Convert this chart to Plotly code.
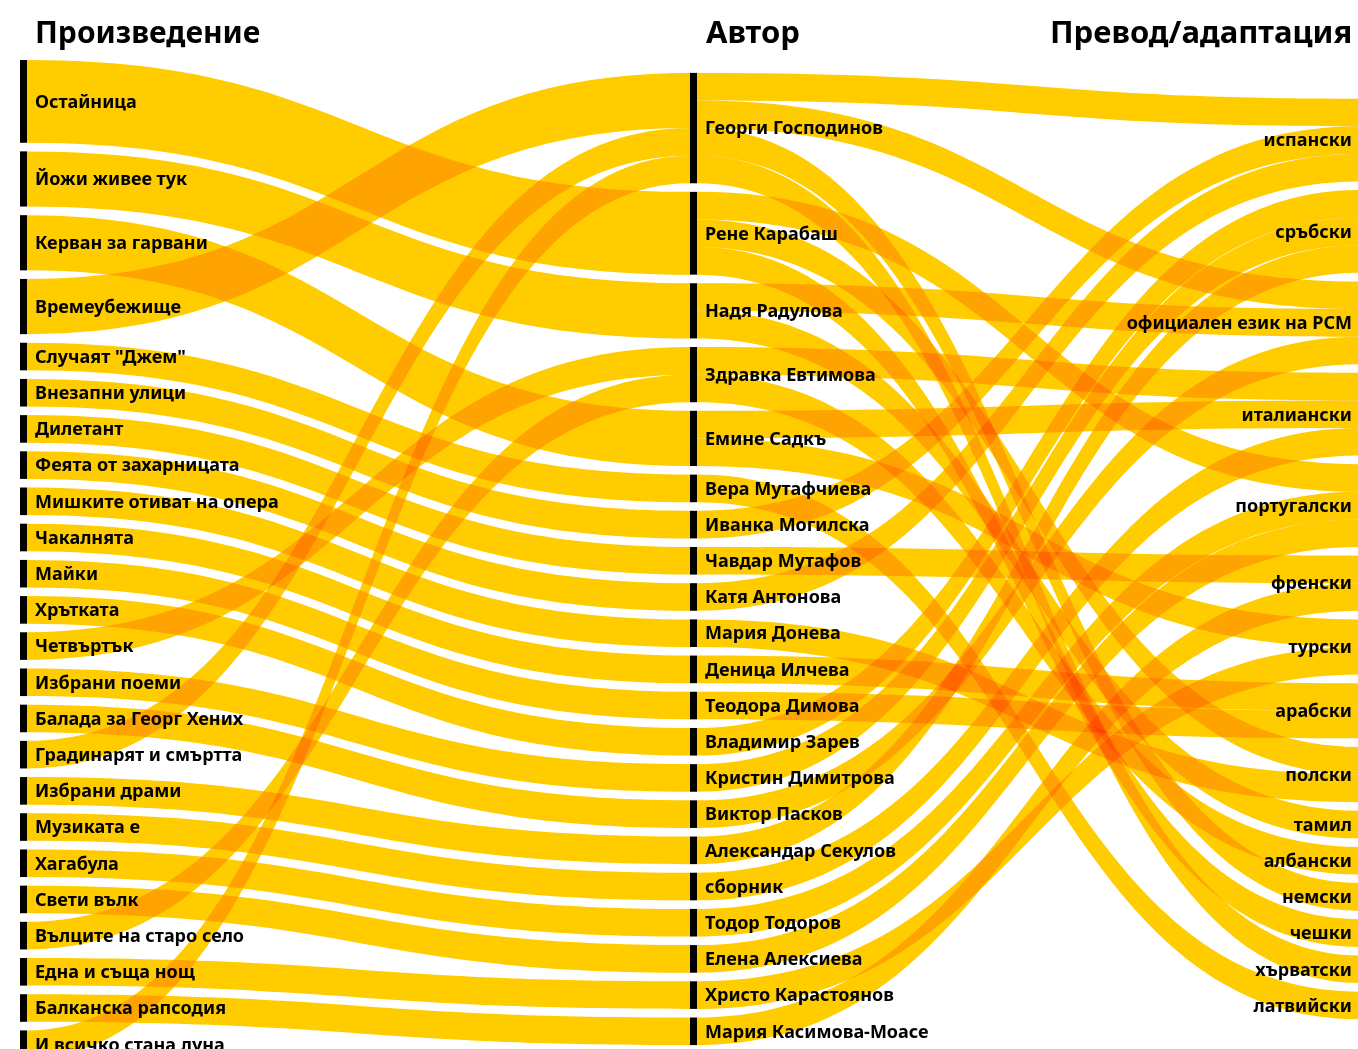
import plotly.graph_objects as go

# ---------------- data ----------------
works = ["Остайница", "Йожи живее тук", "Керван за гарвани", "Времеубежище",
         'Случаят "Джем"', "Внезапни улици", "Дилетант", "Феята от захарницата",
         "Мишките отиват на опера", "Чакалнята", "Майки", "Хрътката", "Четвъртък",
         "Избрани поеми", "Балада за Георг Хених", "Градинарят и смъртта",
         "Избрани драми", "Музиката е", "Хагабула", "Свети вълк",
         "Вълците на старо село", "Една и съща нощ", "Балканска рапсодия",
         "И всичко стана луна"]

authors = ["Георги Господинов", "Рене Карабаш", "Надя Радулова", "Здравка Евтимова",
           "Емине Садкъ", "Вера Мутафчиева", "Иванка Могилска", "Чавдар Мутафов",
           "Катя Антонова", "Мария Донева", "Деница Илчева", "Теодора Димова",
           "Владимир Зарев", "Кристин Димитрова", "Виктор Пасков",
           "Александар Секулов", "сборник", "Тодор Тодоров", "Елена Алексиева",
           "Христо Карастоянов", "Мария Касимова-Моасе"]

languages = ["испански", "сръбски", "официален език на РСМ", "италиански",
             "португалски", "френски", "турски", "арабски", "полски", "тамил",
             "албански", "немски", "чешки", "хърватски", "латвийски"]

wa_work = ["Остайница", "Йожи живее тук", "Керван за гарвани", "Времеубежище",
           'Случаят "Джем"', "Внезапни улици", "Дилетант", "Феята от захарницата",
           "Мишките отиват на опера", "Чакалнята", "Майки", "Хрътката", "Четвъртък",
           "Избрани поеми", "Балада за Георг Хених", "Градинарят и смъртта",
           "Избрани драми", "Музиката е", "Хагабула", "Свети вълк",
           "Вълците на старо село", "Една и съща нощ", "Балканска рапсодия",
           "И всичко стана луна"]
wa_author = ["Рене Карабаш", "Надя Радулова", "Емине Садкъ", "Георги Господинов",
             "Вера Мутафчиева", "Иванка Могилска", "Чавдар Мутафов", "Катя Антонова",
             "Мария Донева", "Деница Илчева", "Теодора Димова", "Владимир Зарев",
             "Здравка Евтимова", "Кристин Димитрова", "Виктор Пасков",
             "Георги Господинов", "Александар Секулов", "сборник", "Тодор Тодоров",
             "Елена Алексиева", "Здравка Евтимова", "Христо Карастоянов",
             "Мария Касимова-Моасе", "Георги Господинов"]
wa_count = [3, 2, 2, 2, 1, 1, 1, 1, 1, 1, 1, 1, 1, 1, 1, 1, 1, 1, 1, 1, 1, 1, 1, 1]

al_author = ["Георги Господинов", "Георги Господинов", "Георги Господинов", "Георги Господинов",
             "Рене Карабаш", "Рене Карабаш", "Рене Карабаш",
             "Надя Радулова", "Надя Радулова",
             "Здравка Евтимова", "Здравка Евтимова",
             "Емине Садкъ", "Емине Садкъ",
             "Вера Мутафчиева", "Иванка Могилска", "Чавдар Мутафов", "Катя Антонова",
             "Мария Донева", "Деница Илчева", "Теодора Димова", "Владимир Зарев",
             "Кристин Димитрова", "Виктор Пасков", "Александар Секулов", "сборник",
             "Тодор Тодоров", "Елена Алексиева", "Христо Карастоянов",
             "Мария Касимова-Моасе"]
al_language = ["испански", "официален език на РСМ", "немски", "хърватски",
               "португалски", "полски", "чешки",
               "официален език на РСМ", "тамил",
               "италиански", "албански",
               "италиански", "турски",
               "латвийски", "испански", "френски", "испански",
               "полски", "арабски", "арабски", "сръбски",
               "сръбски", "официален език на РСМ", "сръбски", "италиански",
               "португалски", "португалски", "турски",
               "френски"]
al_count = [1] * len(al_author)

headers = ["Произведение", "Автор", "Превод/адаптация"]

# ---------------- layout constants ----------------
FIG_W, FIG_H = 1375, 1070
M_L, M_R, M_T, M_B = 20, 8, 60, 12
W = FIG_W - M_L - M_R
H = FIG_H - M_T - M_B
THICK = 7
PAD = 8.6
YELLOW = "#FFCC00"

nodes = works + authors + languages
idx = {n: i for i, n in enumerate(nodes)}
src = [idx[s] for s in wa_work] + [idx[s] for s in al_author]
tgt = [idx[t] for t in wa_author] + [idx[t] for t in al_language]
vals = wa_count + al_count

inflow = [0] * len(nodes)
outflow = [0] * len(nodes)
for s, t, v in zip(src, tgt, vals):
    outflow[s] += v
    inflow[t] += v
nval = [max(a, b) for a, b in zip(inflow, outflow)]

columns = [works, authors, languages]
ky = min((H - (len(c) - 1) * PAD) / sum(nval[idx[n]] for n in c) for c in columns)
node_x = [0.0] * len(nodes)
node_y = [0.0] * len(nodes)
for ci, col in enumerate(columns):
    total = sum(nval[idx[n]] * ky for n in col) + (len(col) - 1) * PAD
    y = (H - total) / 2
    xc = (THICK / 2 + ci * (W - THICK) / (len(columns) - 1)) / W
    for n in col:
        h = nval[idx[n]] * ky
        node_x[idx[n]] = xc
        node_y[idx[n]] = (y + h / 2) / H
        y += h + PAD

node_colors = ["black"] * (len(works) + len(authors)) + [YELLOW] * len(languages)

fig = go.Figure(go.Sankey(
    arrangement="fixed",
    hoverinfo="none",
    node=dict(label=nodes, x=node_x, y=node_y, pad=PAD, thickness=THICK,
              color=node_colors, line=dict(color="rgba(0,0,0,0)", width=10),
              hoverinfo="none"),
    link=dict(source=src, target=tgt, value=vals, color=YELLOW, hoverinfo="none"),
    textfont=dict(family="Noto Sans", size=18, color="black", weight=700, shadow="none"),
))

fig.update_layout(
    width=FIG_W, height=FIG_H,
    margin=dict(l=M_L, r=M_R, t=M_T, b=M_B),
    paper_bgcolor="white", plot_bgcolor="white",
    font=dict(family="Noto Sans"),
    annotations=[
        dict(text=headers[0], xref="paper", yref="paper", x=0, y=1, xanchor="left",
             yanchor="middle", xshift=13, yshift=29, showarrow=False,
             font=dict(size=30, color="black", weight=700)),
        dict(text=headers[1], xref="paper", yref="paper", x=0.5, y=1, xanchor="left",
             yanchor="middle", xshift=10, yshift=29, showarrow=False,
             font=dict(size=31, color="black", weight=700)),
        dict(text=headers[2], xref="paper", yref="paper", x=1, y=1, xanchor="right",
             yanchor="middle", xshift=-13, yshift=29, showarrow=False,
             font=dict(size=31, color="black", weight=700)),
    ],
)

post = """
document.documentElement.lang = 'bg';
document.documentElement.style.overflow = 'hidden';
document.body.style.margin = '0';
document.body.style.overflow = 'hidden';
var gd = document.getElementById('{plot_id}');
function blendLinks() {
  gd.querySelectorAll('.sankey-link').forEach(function (p) { p.style.mixBlendMode = 'multiply'; });
}
blendLinks();
gd.on('plotly_afterplot', blendLinks);
"""

fig.write_html("out.html", post_script=post, config={"displayModeBar": False})
